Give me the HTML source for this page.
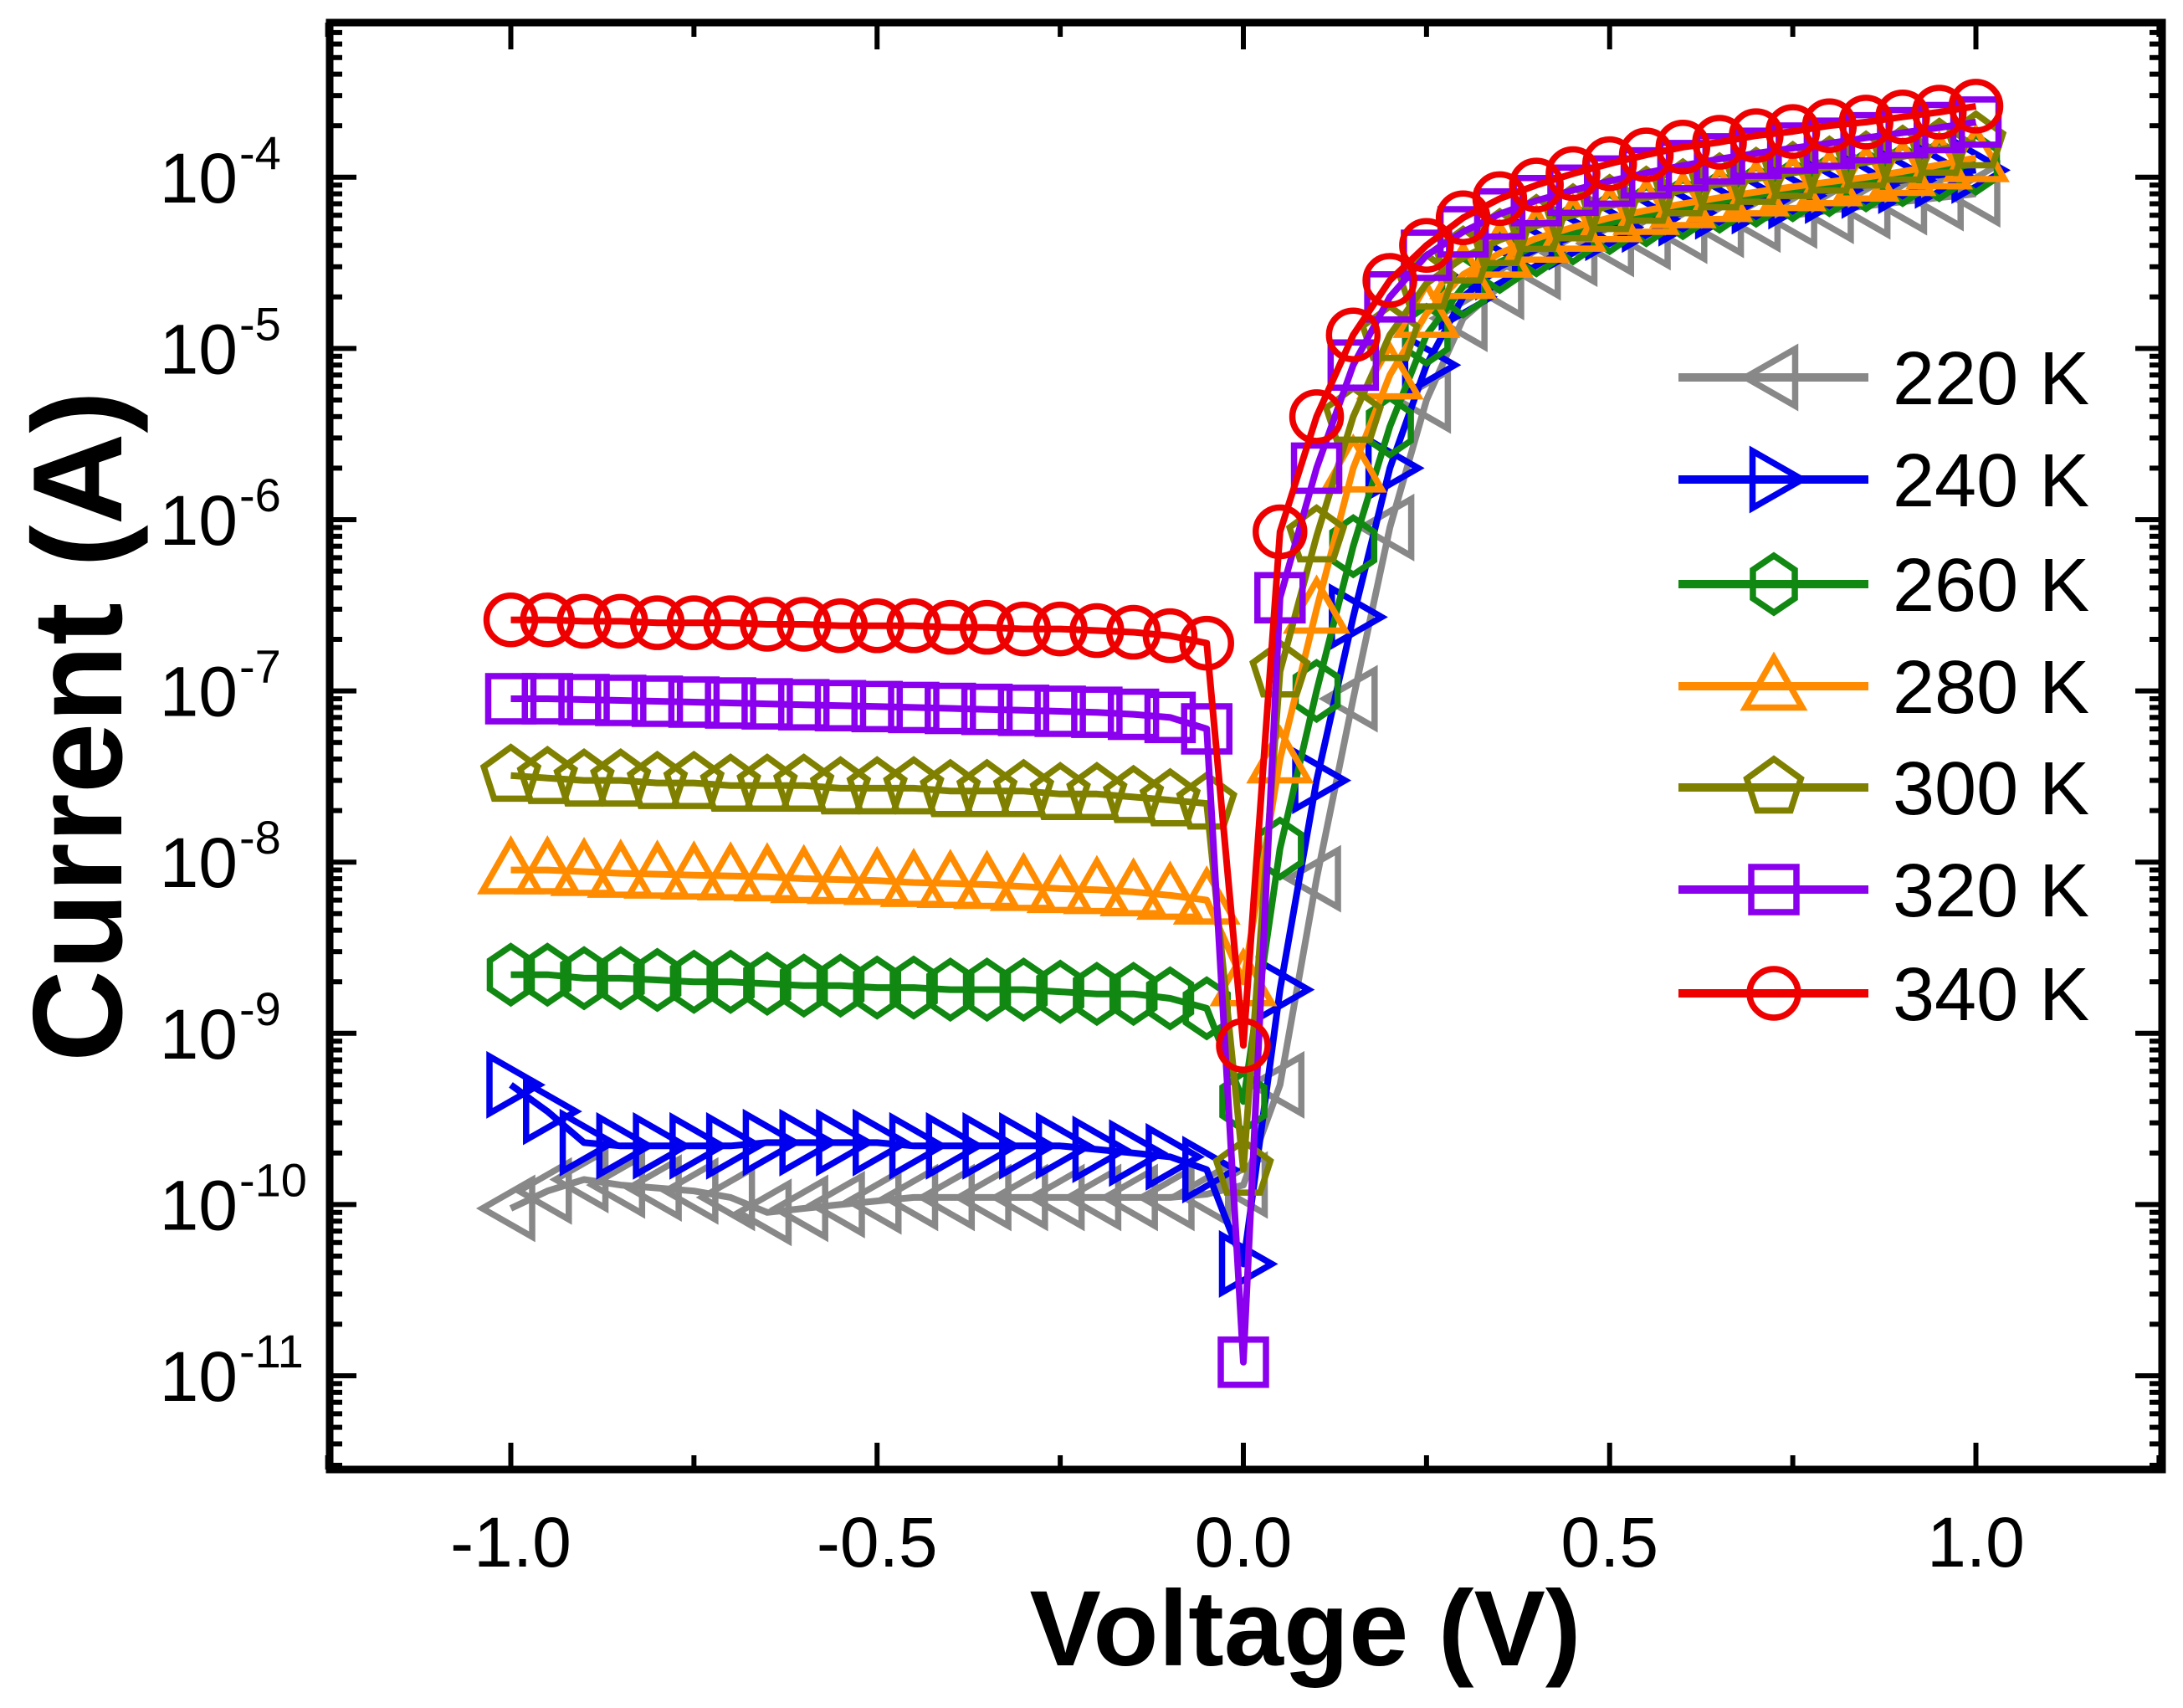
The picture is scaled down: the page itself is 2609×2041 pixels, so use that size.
<!DOCTYPE html>
<html><head><meta charset="utf-8"><style>
html,body{margin:0;padding:0;background:#fff}
svg{display:block}
text{font-family:"Liberation Sans",Arial,sans-serif}
</style></head><body>
<svg id="chart" width="2609" height="2041" viewBox="0 0 2609 2041" xmlns="http://www.w3.org/2000/svg">
<g id="plot"></g>
</svg>
<script>
const voltages=[-1,-0.95,-0.9,-0.85,-0.8,-0.75,-0.7,-0.65,-0.6,-0.55,-0.5,-0.45,-0.4,-0.35,-0.3,-0.25,-0.2,-0.15,-0.1,-0.05,0,0.05,0.1,0.15,0.2,0.25,0.3,0.35,0.4,0.45,0.5,0.55,0.6,0.65,0.7,0.75,0.8,0.85,0.9,0.95,1.0];
const seriesNames=["220 K","240 K","260 K","280 K","300 K","320 K","340 K"];
const seriesColors=["#888888","#0000ee","#118811","#ff8c00","#808000","#8a00ee","#ee0000"];
const seriesMarkers=["left","right","hex","up","pent","square","circle"];
const i220=[9.5e-11,1.2e-10,1.4e-10,1.3e-10,1.25e-10,1.2e-10,1.1e-10,9e-11,9.5e-11,1e-10,1.05e-10,1.1e-10,1.1e-10,1.1e-10,1.1e-10,1.1e-10,1.1e-10,1.1e-10,1.1e-10,1.15e-10,1.3e-10,5e-10,8e-9,9e-8,9e-7,5e-6,1.5e-5,2.3e-5,3e-5,3.6e-5,4.1e-5,4.5e-5,4.9e-5,5.3e-5,5.7e-5,6e-5,6.4e-5,6.8e-5,7.2e-5,7.6e-5,8e-5];
const i240=[5e-10,3.5e-10,2.3e-10,2.2e-10,2.2e-10,2.2e-10,2.2e-10,2.3e-10,2.3e-10,2.3e-10,2.3e-10,2.2e-10,2.2e-10,2.2e-10,2.2e-10,2.2e-10,2.1e-10,2e-10,1.9e-10,1.6e-10,4.5e-11,1.8e-9,3e-8,2.7e-7,2e-6,8e-6,2e-5,3e-5,3.8e-5,4.5e-5,5.1e-5,5.7e-5,6.2e-5,6.8e-5,7.3e-5,7.8e-5,8.4e-5,9e-5,9.6e-5,1.03e-4,1.1e-4];
const i260=[2.2e-9,2.2e-9,2.1e-9,2.1e-9,2.05e-9,2e-9,2e-9,1.95e-9,1.9e-9,1.9e-9,1.85e-9,1.85e-9,1.8e-9,1.8e-9,1.8e-9,1.75e-9,1.7e-9,1.7e-9,1.6e-9,1.4e-9,4e-10,1.2e-8,1e-7,7e-7,3.5e-6,1.2e-5,2.3e-5,3.2e-5,4e-5,4.7e-5,5.4e-5,6e-5,6.6e-5,7.2e-5,7.8e-5,8.4e-5,9e-5,9.6e-5,1.03e-4,1.1e-4,1.2e-4];
const i280=[9e-9,9e-9,8.8e-9,8.6e-9,8.5e-9,8.4e-9,8.3e-9,8.2e-9,8e-9,7.9e-9,7.8e-9,7.6e-9,7.5e-9,7.4e-9,7.2e-9,7e-9,6.9e-9,6.7e-9,6.4e-9,6e-9,2e-9,4e-8,3e-7,2e-6,7e-6,1.6e-5,2.7e-5,3.6e-5,4.4e-5,5.1e-5,5.8e-5,6.4e-5,7e-5,7.6e-5,8.2e-5,8.8e-5,9.4e-5,1e-4,1.08e-4,1.18e-4,1.3e-4];
const i300=[3.2e-8,3.1e-8,3e-8,3e-8,2.9e-8,2.9e-8,2.8e-8,2.8e-8,2.8e-8,2.7e-8,2.7e-8,2.7e-8,2.6e-8,2.6e-8,2.6e-8,2.5e-8,2.5e-8,2.4e-8,2.3e-8,2.2e-8,1.6e-10,1.3e-7,8e-7,4e-6,1.2e-5,2.4e-5,3.4e-5,4.3e-5,5.2e-5,6e-5,6.8e-5,7.6e-5,8.4e-5,9.1e-5,9.8e-5,1.06e-4,1.14e-4,1.22e-4,1.32e-4,1.45e-4,1.6e-4];
const i320=[9e-8,9e-8,8.9e-8,8.8e-8,8.7e-8,8.6e-8,8.5e-8,8.4e-8,8.3e-8,8.2e-8,8.1e-8,8e-8,7.9e-8,7.8e-8,7.7e-8,7.6e-8,7.5e-8,7.3e-8,7e-8,6e-8,1.2e-11,3.5e-7,2e-6,8e-6,2e-5,3.5e-5,4.8e-5,6.1e-5,7.3e-5,8.4e-5,9.5e-5,1.06e-4,1.17e-4,1.28e-4,1.38e-4,1.48e-4,1.58e-4,1.7e-4,1.82e-4,1.95e-4,2.1e-4];
const i340=[2.6e-7,2.6e-7,2.55e-7,2.55e-7,2.5e-7,2.5e-7,2.5e-7,2.45e-7,2.45e-7,2.4e-7,2.4e-7,2.4e-7,2.35e-7,2.35e-7,2.3e-7,2.3e-7,2.25e-7,2.2e-7,2.1e-7,1.9e-7,8.5e-10,8.5e-7,4e-6,1.2e-5,2.5e-5,4e-5,5.8e-5,7.5e-5,9e-5,1.05e-4,1.2e-4,1.35e-4,1.5e-4,1.6e-4,1.75e-4,1.85e-4,2e-4,2.1e-4,2.25e-4,2.4e-4,2.6e-4];
const seriesValues=[i220,i240,i260,i280,i300,i320,i340];
const xTickValues=[-1.0,-0.5,0.0,0.5,1.0];
const xTickLabels=["-1.0","-0.5","0.0","0.5","1.0"];
const yTickExps=[-11,-10,-9,-8,-7,-6,-5,-4];

const NS="http://www.w3.org/2000/svg";
const L=394,R=2584,T=27,B=1756;
function xs(v){return 1486+v*875.5;}
function ys(a){return 1644-(Math.log10(a)+11)*204.6;}
const plot=document.getElementById('plot');
function mk(tag,attrs,parent){const e=document.createElementNS(NS,tag);for(const k in attrs)e.setAttribute(k,attrs[k]);(parent||plot).appendChild(e);return e;}

function marker(type,cx,cy,color,g){
  const s=34;let e;
  const st={fill:"none",stroke:color,"stroke-width":7.5,"stroke-linejoin":"miter"};
  if(type==="circle"){e=mk('circle',Object.assign({cx:cx,cy:cy,r:s-5},st),g);}
  else if(type==="square"){e=mk('rect',Object.assign({x:cx-s+7,y:cy-s+7,width:2*s-14,height:2*s-14},st),g);}
  else{
    let pts=[];
    if(type==="up")pts=[[0,-s],[s,s*0.75],[-s,s*0.75]];
    if(type==="left")pts=[[-s,0],[s*0.75,-s],[s*0.75,s]];
    if(type==="right")pts=[[s,0],[-s*0.75,-s],[-s*0.75,s]];
    if(type==="hex"){for(let k=0;k<6;k++){const a=Math.PI/2+k*Math.PI/3;pts.push([s*0.85*Math.cos(a),-s*Math.sin(a)]);}}
    if(type==="pent"){for(let k=0;k<5;k++){const a=Math.PI/2+k*2*Math.PI/5;pts.push([s*Math.cos(a),-s*Math.sin(a)]);}}
    e=mk('polygon',Object.assign({points:pts.map(p=>(cx+p[0])+","+(cy+p[1])).join(" ")},st),g);
  }
  return e;
}

seriesValues.forEach((vals,si)=>{
  const g=mk('g',{});
  
  
  const d=vals.map((v,i)=>(i?"L":"M")+xs(voltages[i]).toFixed(1)+","+ys(v).toFixed(1)).join(" ");
  const p=mk('path',{d:d,fill:"none",stroke:seriesColors[si],"stroke-width":8,"stroke-linejoin":"round"},g);
  
  
  vals.forEach((v,i)=>{
    const m=marker(seriesMarkers[si],xs(voltages[i]),ys(v),seriesColors[si],g);
    
    
  });
});

const fr=mk('rect',{x:L,y:T,width:R-L,height:B-T,fill:"none",stroke:"#000","stroke-width":9});



const xt=mk('g',{});


for(let v=-1.25;v<=1.251;v+=0.25){
  const major=Math.abs(v*2-Math.round(v*2))<1e-6;
  const len=major?32:17;const x=xs(v);
  mk('line',{x1:x,x2:x,y1:B,y2:B-len,stroke:"#000","stroke-width":6},xt);
  mk('line',{x1:x,x2:x,y1:T,y2:T+len,stroke:"#000","stroke-width":6},xt);
}
xTickValues.forEach((v,i)=>{
  const t=mk('text',{x:xs(v),y:1872,"font-size":84,"text-anchor":"middle",fill:"#000"},xt);
  t.textContent=xTickLabels[i];
  
  
});
const yt=mk('g',{});


for(let e=-12;e<=-3;e++){
  for(let k=1;k<10;k++){
    const y=ys(k*Math.pow(10,e));
    if(y<T+5||y>B-5)continue;
    const len=k===1?32:15;
    mk('line',{x1:L,x2:L+len,y1:y,y2:y,stroke:"#000","stroke-width":6},yt);
    mk('line',{x1:R,x2:R-len,y1:y,y2:y,stroke:"#000","stroke-width":6},yt);
  }
}
yTickExps.forEach(e=>{
  const t=mk('text',{x:284,y:ys(Math.pow(10,e))+30,"font-size":84,"text-anchor":"end",fill:"#000"},yt);
  t.textContent="10";
  
  
  const s=mk('text',{x:286,y:ys(Math.pow(10,e))-10,"font-size":56,"text-anchor":"start",fill:"#000"},yt);
  s.textContent=String(e);
  
  
});
const xtt=mk('text',{x:1560,y:1990,"font-size":128,"font-weight":"bold","text-anchor":"middle",fill:"#000"});
xtt.textContent="Voltage (V)";


const ytt=mk('text',{x:0,y:0,"font-size":152,"font-weight":"bold","text-anchor":"middle",fill:"#000",transform:"translate(145,868) rotate(-90)"});
ytt.textContent="Current (A)";



const lg=mk('g',{});


const legendY=[451,573,698,820,941,1063,1187];
seriesNames.forEach((n,i)=>{
  const ge=mk('g',{},lg);
  
  
  const y=legendY[i];
  mk('line',{x1:2006,x2:2233,y1:y,y2:y,stroke:seriesColors[i],"stroke-width":10},ge);
  marker(seriesMarkers[i],2120,y,seriesColors[i],ge);
  const t=mk('text',{x:2262,y:y+32,"font-size":90,fill:"#000"},ge);
  t.textContent=n;
});
</script>
</body></html>
